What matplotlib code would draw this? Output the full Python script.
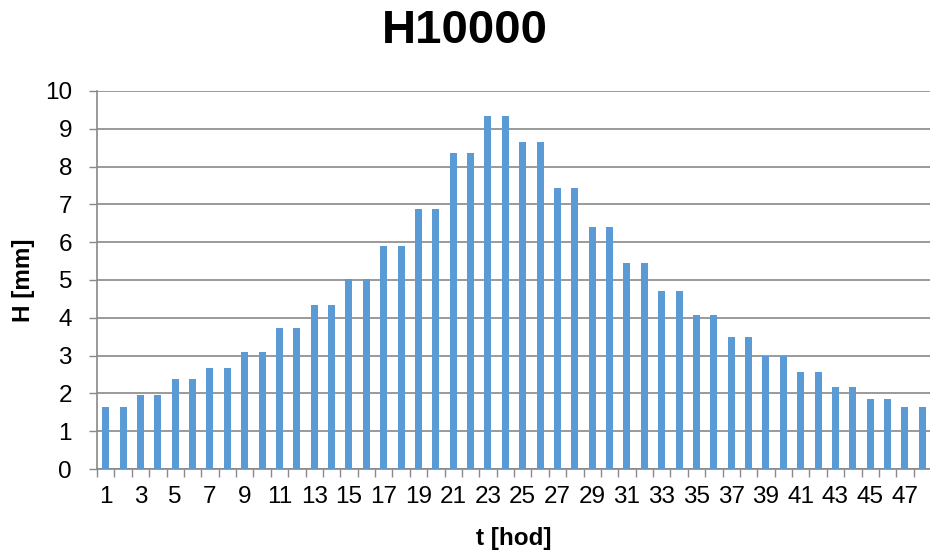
import matplotlib
matplotlib.use("Agg")
import matplotlib.pyplot as plt
import numpy as np
from matplotlib.ticker import FixedLocator

plt.rcParams['font.family'] = ['Liberation Sans', 'DejaVu Sans']

title = "H10000"
xlabel = "t [hod]"
ylabel = "H [mm]"
hours = list(range(1, 49))
values = [1.63, 1.63, 1.96, 1.96, 2.38, 2.38, 2.68, 2.68, 3.09, 3.09,
          3.72, 3.72, 4.33, 4.33, 5.02, 5.02, 5.91, 5.91, 6.88, 6.88,
          8.37, 8.37, 9.35, 9.35, 8.64, 8.64, 7.44, 7.44, 6.39, 6.39,
          5.46, 5.46, 4.71, 4.71, 4.07, 4.07, 3.49, 3.49, 2.99, 2.99,
          2.57, 2.57, 2.17, 2.17, 1.85, 1.85, 1.64, 1.64]
yticks = list(range(0, 11))

fig = plt.figure(figsize=(9.30, 5.56), dpi=100)
ax = fig.add_axes([97/930, 1 - 469/556, (931 - 97)/930, (469 - 91)/556])

x = np.arange(len(hours))
ax.bar(x, values, width=0.4, color='#5B9BD5', zorder=3)

ax.set_xlim(-0.5, len(hours) - 0.5)
ax.set_ylim(0, 10)
ax.set_yticks(yticks)
ax.set_yticklabels([str(v) for v in yticks])
ax.set_xticks(x[::2])
ax.set_xticklabels([str(h) for h in hours[::2]])
ax.xaxis.set_minor_locator(FixedLocator(np.arange(-0.5, len(hours), 1.0)))

gridc = '#898989'
ax.yaxis.grid(True, color=gridc, linewidth=1.2, zorder=0)
ax.set_axisbelow(True)
for s in ['top', 'right']:
    ax.spines[s].set_visible(False)
for s in ['left', 'bottom']:
    ax.spines[s].set_color(gridc)
    ax.spines[s].set_linewidth(1.2)

ax.tick_params(axis='x', which='major', length=0, pad=12, labelsize=17.5)
ax.tick_params(axis='x', which='minor', length=6, width=1, color=gridc, direction='out')
ax.tick_params(axis='y', which='major', length=6, width=1, color=gridc, pad=12, labelsize=17.5)

ax.set_xlabel(xlabel, fontsize=17.5, fontweight='bold', labelpad=14)
ax.set_ylabel(ylabel, fontsize=17.5, fontweight='bold', labelpad=7)
fig.text(0.5, 1 - 31/556, title, fontsize=34, fontweight='bold', ha='center', va='center')

fig.savefig("out.png", dpi=100)
